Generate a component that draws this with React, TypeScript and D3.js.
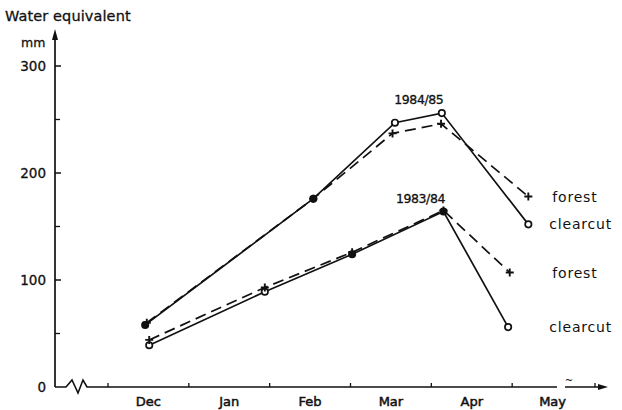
import React from 'react'
import * as d3 from 'd3'

// x values are month positions: 0 = 1 Dec, 1 = 1 Jan, ... (uniform month spacing as drawn)
const months = ['Dec', 'Jan', 'Feb', 'Mar', 'Apr', 'May']
const yTicks = [0, 100, 200, 300]
const yMinor = [50, 150, 250]

const clear8485X = [0.46, 2.54, 3.55, 4.13, 5.2]
const clear8485Y = [58, 176, 247, 256, 152]
const forest8485X = [0.48, 2.54, 3.52, 4.12, 5.2]
const forest8485Y = [60, 176, 237, 246, 178]

const clear8384X = [0.51, 1.94, 3.02, 4.15, 4.95]
const clear8384Y = [39, 89, 124, 164, 56]
const forest8384X = [0.51, 1.94, 3.02, 4.15, 4.97]
const forest8384Y = [44, 93, 126, 165, 107]

const seasons = [
  { name: '1984/85', cx: clear8485X, cy: clear8485Y, fx: forest8485X, fy: forest8485Y },
  { name: '1983/84', cx: clear8384X, cy: clear8384Y, fx: forest8384X, fy: forest8384Y },
]

const font = '"DejaVu Sans", sans-serif'
const ink = '#111'

const App: React.FC = () => {
  const width = 622
  const height = 410
  const x0 = 55
  const yBase = 387

  const x = d3.scaleLinear().domain([0, 6]).range([108, 593])
  const y = d3.scaleLinear().domain([0, 300]).range([yBase, 66])

  const line = d3.line<[number, number]>().x(d => x(d[0])).y(d => y(d[1]))

  const zip = (a: number[], b: number[]) => a.map((v, i) => [v, b[i]] as [number, number])

  // legend column sits just right of the last measured point
  const lastX = d3.max(seasons, s => Math.max(...s.cx, ...s.fx)) || 5
  const legendX = x(lastX) + 21

  return (
    <svg width={width} height={height} style={{ position: 'absolute', left: 0, top: 0, background: '#fff' }}>
      <text x={5} y={21} fontFamily={font} fontSize={14.5} letterSpacing={0.1} fill={ink} stroke={ink} strokeWidth={0.3}>Water equivalent</text>
      <text x={21} y={47} fontFamily={font} fontSize={12.5} fill={ink} stroke={ink} strokeWidth={0.3}>mm</text>

      {/* y axis */}
      <line x1={x0} x2={x0} y1={yBase} y2={34} stroke={ink} strokeWidth={1.7} />
      <path d={`M${x0 - 3},${40} L${x0},${29} L${x0 + 3},${40} Z`} fill={ink} />
      {yTicks.map(t => (
        <g key={t}>
          {t > 0 && <line x1={x0} x2={x0 + 6} y1={y(t)} y2={y(t)} stroke={ink} strokeWidth={1.5} />}
          <text x={46} y={y(t) + 5} textAnchor="end" fontFamily={font} fontSize={13.5} fill={ink} stroke={ink} strokeWidth={0.3}>{t}</text>
        </g>
      ))}
      {yMinor.map(t => (
        <line key={t} x1={x0} x2={x0 + 5} y1={y(t)} y2={y(t)} stroke={ink} strokeWidth={1.3} />
      ))}

      {/* x axis with break */}
      <path
        d={`M${x0},${yBase} L66,${yBase} L72,380 L78,393 L83,380 L87,${yBase} L557,${yBase}`}
        fill="none" stroke={ink} strokeWidth={1.6} strokeLinejoin="miter"
      />
      <text x={569} y={384} textAnchor="middle" fontFamily={font} fontSize={10} fill={ink}>~</text>
      <line x1={565} x2={600} y1={yBase} y2={yBase} stroke={ink} strokeWidth={1.6} />
      <path d={`M598,${yBase - 3} L608,${yBase} L598,${yBase + 3} Z`} fill={ink} />
      {d3.range(0, 6).map(i => (
        <line key={i} x1={x(i)} x2={x(i)} y1={yBase} y2={yBase - 4} stroke={ink} strokeWidth={1.3} />
      ))}
      <line x1={595} x2={595} y1={yBase} y2={yBase - 4} stroke={ink} strokeWidth={1.3} />
      {months.map((m, i) => (
        <text key={m} x={x(i + 0.5)} y={406} textAnchor="middle" fontFamily={font} fontSize={13} fill={ink} stroke={ink} strokeWidth={0.5}>{m}</text>
      ))}

      {seasons.map(s => {
        const cPts = zip(s.cx, s.cy)
        const fPts = zip(s.fx, s.fy)
        const peak = cPts[3]
        const endC = cPts[cPts.length - 1]
        const endF = fPts[fPts.length - 1]
        return (
          <g key={s.name}>
            <path d={line(fPts) || ''} fill="none" stroke={ink} strokeWidth={1.7} strokeDasharray="11,6" />
            <path d={line(cPts) || ''} fill="none" stroke={ink} strokeWidth={1.7} />
            {cPts.map((p, i) => {
              const f = fPts[i]
              const near = Math.hypot(x(p[0]) - x(f[0]), y(p[1]) - y(f[1])) < 3
              return (
                <circle key={i} cx={x(p[0])} cy={y(p[1])} r={3.2} fill={near ? ink : '#fff'} stroke={ink} strokeWidth={1.7} />
              )
            })}
            {fPts.map((p, i) => (
              <path key={i} d={`M${x(p[0]) - 4},${y(p[1])} h8 M${x(p[0])},${y(p[1]) - 4} v8`} stroke={ink} strokeWidth={1.9} />
            ))}
            <text x={x(peak[0]) - 23} y={y(peak[1]) - 9} textAnchor="middle" fontFamily={font} fontSize={12.5} letterSpacing={-0.4} fill={ink} stroke={ink} strokeWidth={0.3}>{s.name}</text>
            <text x={legendX + 3} y={y(endF[1]) + 5} fontFamily={font} fontSize={14} letterSpacing={0.8} fill={ink}>forest</text>
            <text x={legendX} y={y(endC[1]) + 5} fontFamily={font} fontSize={14} letterSpacing={0.8} fill={ink}>clearcut</text>
          </g>
        )
      })}
    </svg>
  )
}

export default App
